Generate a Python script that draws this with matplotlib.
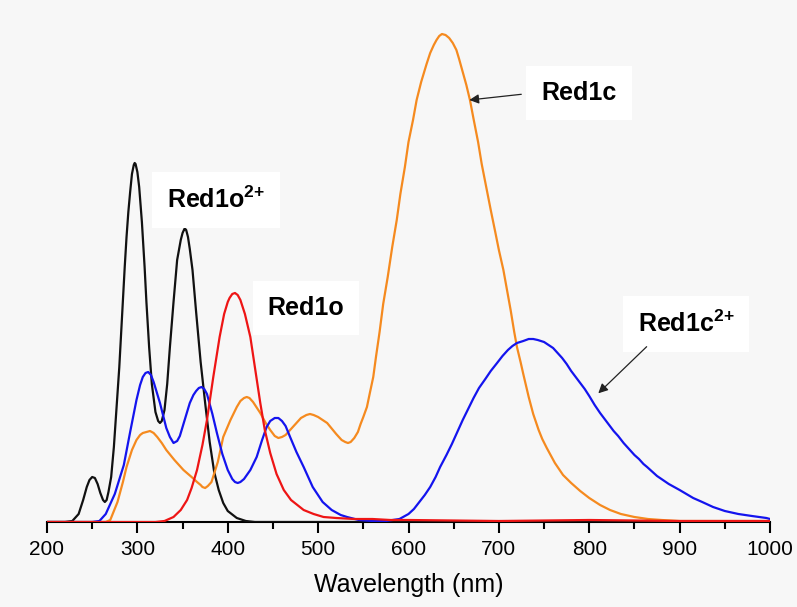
import matplotlib
matplotlib.use("Agg")
import matplotlib.pyplot as plt

plt.rcParams['font.family'] = ['Liberation Sans', 'DejaVu Sans']
plt.rcParams['mathtext.fontset'] = 'custom'
plt.rcParams['mathtext.rm'] = 'Liberation Sans:bold'
plt.rcParams['mathtext.bf'] = 'Liberation Sans:bold'

# ---- data (wavelength in nm, absorbance in arbitrary units) ----
wl_red1o2 = [200, 220, 228, 235, 240, 244, 247, 250, 253, 256, 259, 262, 264, 266,
             268, 271, 274, 277, 280, 283, 286, 288, 290, 292, 294, 296, 297, 298,
             300, 302, 305, 308, 310, 313, 316, 320, 323, 325, 327, 330, 333, 336,
             340, 344, 348, 350, 352, 353, 354, 356, 358, 361, 365, 370, 375, 380,
             385, 390, 395, 400, 410, 420, 430, 600, 800, 1000]
abs_red1o2 = [0, 0, 1, 8, 22, 35, 42, 45, 44, 38, 29, 22, 20, 22,
              30, 45, 75, 115, 155, 205, 255, 285, 310, 330, 348, 357, 359, 358,
              350, 335, 300, 255, 220, 175, 138, 110, 101, 99, 101, 112, 138, 175,
              220, 262, 282, 289, 293, 293, 292, 285, 273, 252, 210, 160, 119, 80,
              50, 32, 19, 11, 4, 1, 0, 0, 1, 0]

wl_red1o = [200, 320, 330, 340, 348, 355, 360, 366, 372, 377, 384, 391, 396, 400,
            402, 405, 408, 411, 414, 419, 425, 430, 436, 441, 447, 454, 462, 470,
            484, 495, 506, 520, 540, 560, 580, 600, 700, 800, 900, 1000]
abs_red1o = [0, 0, 1, 5, 12, 22, 34, 52, 77, 102, 145, 185, 208, 220,
             224, 228, 229, 227, 222, 208, 185, 155, 119, 92, 69, 48, 32, 22,
             12, 8, 5, 4, 3, 3, 2, 2, 1, 2, 1, 1]

wl_red1c = [200, 265, 270, 278, 284, 288, 294, 299, 303, 306, 310, 314, 318, 322,
            327, 332, 341, 351, 360, 366, 370, 372, 375, 378, 382, 389, 395, 403,
            410, 414, 418, 421, 424, 428, 436, 442, 447, 452, 456, 460, 464, 472,
            481, 487, 491, 495, 500, 510, 520, 526, 530, 533, 536, 540, 544, 547,
            550, 554, 557, 561, 564, 568, 572, 577, 582, 587, 591, 596, 600, 605,
            609, 614, 620, 624, 628, 631, 634, 637, 641, 645, 649, 653, 656, 660,
            664, 668, 672, 677, 681, 686, 691, 696, 700, 705, 709, 713, 717, 720,
            724, 727, 733, 738, 744, 748, 753, 762, 771, 780, 790, 800, 812, 823,
            835, 850, 865, 880, 900, 1000]
abs_red1c = [0, 0, 2, 20, 40, 55, 72, 82, 87, 89, 90, 91, 89, 85,
             79, 72, 62, 52, 45, 40, 37, 35, 34, 36, 40, 60, 85, 102,
             115, 121, 124, 125, 124, 120, 109, 99, 92, 86, 84, 85, 87, 95,
             104, 107, 108, 107, 105, 99, 88, 82, 80, 79, 80, 84, 90, 98,
             105, 115, 128, 145, 165, 190, 218, 245, 275, 302, 328, 355, 380, 402,
             422, 440, 458, 469, 477, 482, 486, 488, 487, 484, 479, 472, 463, 450,
             437, 422, 403, 380, 358, 335, 312, 290, 272, 252, 232, 212, 190, 175,
             160, 148, 125, 108, 92, 83, 74, 59, 47, 39, 31, 24, 17, 12,
             8, 5, 3, 2, 1, 1]

wl_red1c2 = [200, 250, 258, 265, 275, 285, 292, 299, 303, 306, 309, 312, 315, 318,
             321, 325, 332, 336, 340, 344, 347, 353, 358, 362, 365, 368, 371, 374,
             377, 383, 388, 394, 400, 405, 408, 411, 414, 418, 425, 432, 438, 443,
             447, 452, 456, 460, 464, 469, 476, 484, 494, 505, 515, 525, 532, 545,
             560, 575, 590, 600, 606, 612, 618, 624, 630, 635, 642, 648, 654, 660,
             666, 672, 678, 685, 691, 698, 704, 710, 715, 720, 727, 733, 738, 743,
             750, 755, 760, 765, 770, 775, 780, 785, 790, 795, 800, 806, 812, 817,
             822, 827, 832, 838, 845, 850, 855, 860, 864, 875, 888, 900, 915, 925,
             937, 950, 965, 980, 996, 1000]
abs_red1c2 = [0, 0, 1, 8, 28, 57, 90, 122, 137, 145, 149, 150, 147, 140,
              131, 119, 94, 85, 79, 81, 86, 104, 119, 127, 131, 134, 135, 133,
              128, 108, 89, 68, 52, 43, 40, 39, 40, 43, 52, 65, 82, 95,
              101, 104, 104, 101, 96, 85, 70, 55, 35, 20, 12, 7, 5, 2,
              1, 1, 3, 8, 13, 20, 27, 35, 45, 55, 67, 78, 90, 102,
              113, 124, 134, 143, 151, 159, 166, 172, 176, 179, 181, 183, 183, 182,
              180, 177, 174, 169, 164, 158, 151, 145, 139, 133, 126, 117, 109, 103,
              97, 91, 86, 79, 72, 67, 63, 58, 55, 46, 38, 32, 24, 20,
              15, 11, 8, 6, 4, 3]

x_ticks = [200, 300, 400, 500, 600, 700, 800, 900, 1000]

# ---- figure ----
bg = '#f7f7f7'
fig = plt.figure(figsize=(7.97, 6.07), dpi=100, facecolor=bg)
ax = fig.add_axes([47 / 797, 85 / 607, 723 / 797, 502 / 607])
ax.set_facecolor(bg)

lw = 1.6
ax.plot(wl_red1o2, abs_red1o2, color='#111111', lw=lw, zorder=3)
ax.plot(wl_red1c2, abs_red1c2, color='#1414ee', lw=lw, zorder=4)
ax.plot(wl_red1c, abs_red1c, color='#f58a1f', lw=lw, zorder=3)
ax.plot(wl_red1o, abs_red1o, color='#ee1515', lw=lw, zorder=5)

ax.set_xlim(200, 1000)
ax.set_ylim(0, 502)
for s in ['top', 'right', 'left']:
    ax.spines[s].set_visible(False)
ax.spines['bottom'].set_linewidth(1.5)
ax.set_yticks([])
ax.set_xticks(x_ticks)
ax.set_xticklabels([str(t) for t in x_ticks])
ax.set_xticks([250, 350, 450, 550, 650, 750, 850, 950], minor=True)
ax.tick_params(axis='x', which='major', length=8, width=1.5, labelsize=15, pad=5, direction='out')
ax.tick_params(axis='x', which='minor', length=5, width=1.5, direction='out')
ax.set_xlabel('Wavelength (nm)', fontsize=18, labelpad=10)

box = dict(boxstyle='square,pad=0.6', facecolor='white', edgecolor='none')
tkw = dict(fontsize=18, fontweight='bold', ha='center', va='baseline', zorder=6)
ax.text(387, 314, r'Red1o$^{\text{2+}}$', bbox=box, **tkw)
ax.text(486.5, 207, 'Red1o', bbox=box, **tkw)
ax.text(788.6, 422, 'Red1c', bbox=box, **tkw)
ax.text(907, 190, r'Red1c$^{\text{2+}}$', bbox=box, **tkw)

ap = dict(arrowstyle='-|>', color='#222222', lw=0.9, mutation_scale=14, shrinkA=0, shrinkB=0)
ax.annotate('', xy=(667.3, 422), xytext=(724.8, 427.7), arrowprops=ap, zorder=7)
ax.annotate('', xy=(810, 128.7), xytext=(863.5, 175.3), arrowprops=ap, zorder=7)

fig.savefig('out.png', dpi=100, facecolor=bg)
